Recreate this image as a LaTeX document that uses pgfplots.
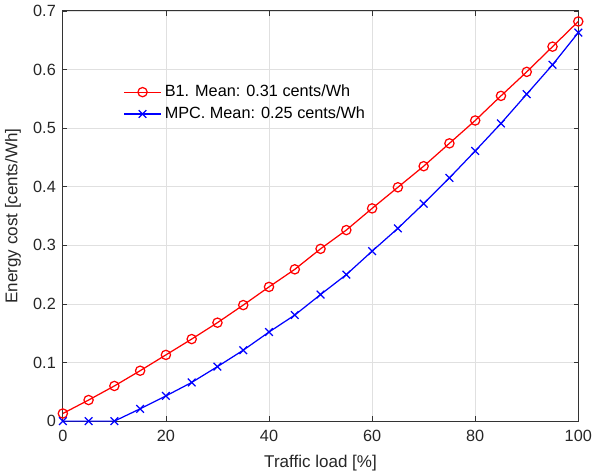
\documentclass[border=0pt]{standalone}
\usepackage{pgfplots}
\pgfplotsset{compat=1.18}
\usepackage{fontspec}
\setmainfont{Liberation Sans}
\begin{document}
\begin{tikzpicture}
\begin{axis}[
  scale only axis,
  width=333pt, height=265pt,
  xmin=0, xmax=100, ymin=0, ymax=0.7,
  xtick={0,20,40,60,80,100},
  ytick={0,0.1,0.2,0.3,0.4,0.5,0.6,0.7},
  yticklabels={0,0.1,0.2,0.3,0.4,0.5,0.6,0.7},
  /pgf/number format/assume math mode=true,
  tick label style={font=\fontsize{10.5}{12}\selectfont, text=black!85},
  xticklabel style={yshift=-2pt},
  yticklabel style={xshift=-1pt},
  label style={font=\fontsize{11}{13}\selectfont, text=black!85},
  xlabel={Traffic load [\%]},
  ylabel={Energy cost [cents/Wh]},
  xlabel style={yshift=-2pt},
  ylabel style={yshift=1pt},
  grid=major,
  major grid style={draw=black!12, line width=0.5pt},
  axis line style={draw=black!80, line width=0.6pt},
  tick style={draw=black!80, line width=0.5pt},
  tick align=inside,
  major tick length=3pt,
  legend style={at={(0.108,0.835)}, anchor=north west, draw=none, fill=none,
    font=\fontsize{10.5}{12}\selectfont, row sep=1pt},
  legend cell align=left,
]
\addplot[red, line width=0.8pt, mark=o, mark size=3pt, mark options={line width=0.8pt},
  legend image code/.code={\draw[red, line width=0.8pt, mark repeat=2,mark phase=2] plot coordinates {(0cm,0cm) (0.42cm,0cm) (0.84cm,0cm)};}] coordinates {
(0,0.013) (5,0.036) (10,0.060) (15,0.086) (20,0.113) (25,0.140) (30,0.168)
(35,0.198) (40,0.229) (45,0.259) (50,0.294) (55,0.326) (60,0.363) (65,0.399)
(70,0.435) (75,0.474) (80,0.513) (85,0.555) (90,0.596) (95,0.639) (100,0.682)
};
\addlegendentry{B1. Mean: 0.31 cents/Wh}
\addplot[blue, line width=0.8pt, mark=x, mark size=3.5pt, mark options={line width=0.8pt},
  legend image code/.code={\draw[blue, line width=0.8pt, mark repeat=2,mark phase=2] plot coordinates {(0cm,0cm) (0.42cm,0cm) (0.84cm,0cm)};}] coordinates {
(0,0) (5,0) (10,0) (15,0.021) (20,0.043) (25,0.066) (30,0.093)
(35,0.121) (40,0.152) (45,0.181) (50,0.216) (55,0.250) (60,0.290) (65,0.329)
(70,0.371) (75,0.415) (80,0.461) (85,0.508) (90,0.558) (95,0.608) (100,0.663)
};
\addlegendentry{MPC. Mean: 0.25 cents/Wh}
\end{axis}
\end{tikzpicture}
\end{document}
